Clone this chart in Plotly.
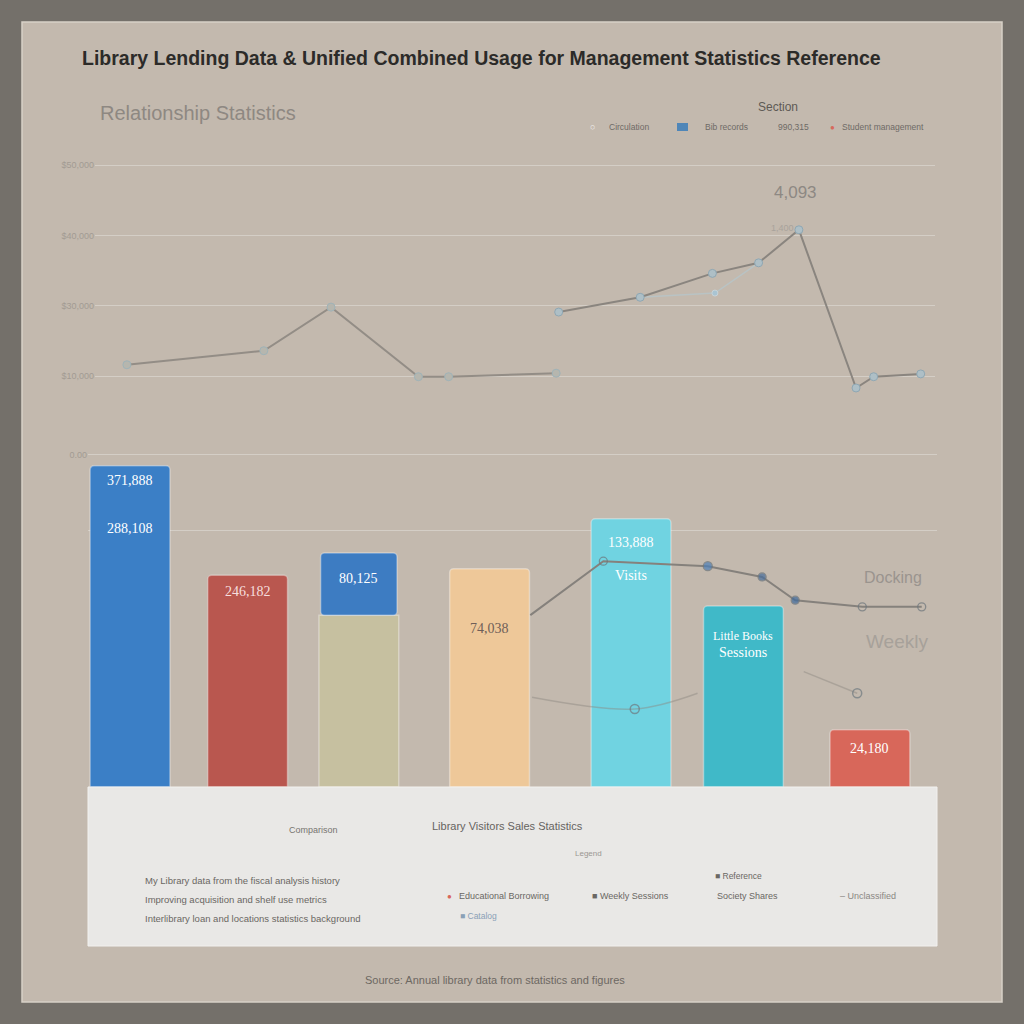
import plotly.graph_objects as go

# ---------------- data ----------------
# top panel: usage trend (day index 0-100, value units)
trend_a_day = [3.8, 20.1, 28.1, 38.5, 42.1, 54.9]
trend_a_val = [16, 36, 98, -1, -1, 4]
trend_b_day = [55.2, 64.9, 73.5, 79.0, 83.8, 90.6, 92.7, 98.3]
trend_b_val = [91, 112, 146, 161, 208, -17, -1, 3]
trend_c_day = [64.9, 73.8, 79.0]
trend_c_val = [112, 118, 161]
top_tick_vals = [0, 100, 200, 300]
top_left_ticks = ["$10,000", "$30,000", "$40,000", "$50,000"]
top_right_ticks = ["5,000", "8,000", "10,000", "12,000"]

# bottom panel: bars by material type
bar_pos = [4.95, 18.8, 31.9, 47.3, 63.96, 77.2, 92.1]
bar_val = [387, 255, 207, 263, 323, 218, 69]
bar_colors = ["#3b7fc6", "#b9574f", "#c6c0a0", "#eec899", "#70d3e1", "#40b9c8", "#d8675a"]
seg_pos = [31.9]
seg_base = [207]
seg_val = [75]
over_day = [52.1, 60.7, 73.0, 79.4, 83.3, 91.2, 98.2]
over_val = [207, 272, 266, 253, 225, 217, 217]
faint_day = [52.3, 64.4, 71.8]
faint_val = [108, 94, 113]
faint2_day = [84.3, 90.6]
faint2_val = [139, 113]
bot_left_vals = [308.4, 400]
bot_left_ticks = ["", "0.00"]
bot_right_vals = [38.6, 117, 400]
bot_right_ticks = ["2.00", "1.00", "0.00"]

# bar labels: (bar index, text, value-position, colour)
label_bar = [0, 0, 1, 2, 3, 4, 4, 5, 5, 6]
label_text = ["371,888", "288,108", "246,182", "80,125", "74,038", "133,888", "Visits",
              "Little Books", "Sessions", "24,180"]
label_val = [369, 311, 235, 251, 191, 295, 255, 182, 162, 46]
label_col = ["#ffffff", "#ffffff", "#f6dede", "#ffffff", "#6f5f58", "#ffffff", "#ffffff",
             "#ffffff", "#ffffff", "#ffffff"]

W = H = 1024
def px(x): return x / W
def py(y): return 1 - y / H

fig = go.Figure()

# ---------------- traces ----------------
fig.add_trace(go.Scatter(x=trend_c_day, y=trend_c_val, mode="lines+markers",
                         line=dict(color="#b9c3c4", width=1.5),
                         marker=dict(size=6, color="#a9c4d2", line=dict(color="#c9d4d8", width=1)),
                         xaxis="x", yaxis="y", showlegend=False))
fig.add_trace(go.Scatter(x=trend_a_day, y=trend_a_val, mode="lines+markers",
                         line=dict(color="#938d86", width=2),
                         marker=dict(size=8, color="#b6b6ae", line=dict(color="#9fb3b8", width=1)),
                         xaxis="x", yaxis="y", showlegend=False))
fig.add_trace(go.Scatter(x=trend_b_day, y=trend_b_val, mode="lines+markers",
                         line=dict(color="#8a857f", width=2),
                         marker=dict(size=8, color="#aebfc6", line=dict(color="#8fa7b3", width=1)),
                         xaxis="x", yaxis="y", showlegend=False))

fig.add_trace(go.Bar(x=bar_pos, y=bar_val, width=9.4,
                     marker=dict(color=bar_colors, cornerradius=4,
                                 line=dict(color="rgba(255,255,255,0.35)", width=1.5)),
                     xaxis="x2", yaxis="y2", showlegend=False))
fig.add_trace(go.Bar(x=seg_pos, y=seg_val, base=seg_base, width=9.0,
                     marker=dict(color="#3d7cc2", cornerradius=4,
                                 line=dict(color="rgba(255,255,255,0.35)", width=1.5)),
                     xaxis="x2", yaxis="y2", showlegend=False))

fig.add_trace(go.Scatter(x=faint_day, y=faint_val, mode="lines+markers",
                         line=dict(color="rgba(140,135,128,0.45)", width=1.5, shape="spline"),
                         marker=dict(size=[0, 9, 0], color="rgba(0,0,0,0)",
                                     line=dict(color="#6f7a80", width=1.5)),
                         xaxis="x2", yaxis="y2", showlegend=False))
fig.add_trace(go.Scatter(x=faint2_day, y=faint2_val, mode="lines+markers",
                         line=dict(color="rgba(140,135,128,0.45)", width=1.5),
                         marker=dict(size=[0, 9], color="rgba(0,0,0,0)",
                                     line=dict(color="#6f7a80", width=1.5)),
                         xaxis="x2", yaxis="y2", showlegend=False))
fig.add_trace(go.Scatter(x=over_day, y=over_val, mode="lines+markers",
                         line=dict(color="#85817c", width=2),
                         marker=dict(size=[0, 8, 9, 8, 8, 8, 8],
                                     color=["#888", "rgba(0,0,0,0)", "#4c7fb8", "#4a6f9c", "#3f6a9c",
                                            "rgba(0,0,0,0)", "rgba(0,0,0,0)"],
                                     line=dict(color="#6d767c", width=1.3)),
                         xaxis="x2", yaxis="y2", showlegend=False))

# ---------------- shapes ----------------
shapes = [
    dict(type="rect", xref="paper", yref="paper", x0=px(22), x1=px(1002), y0=py(1002), y1=py(22),
         fillcolor="#c3b9ae", line=dict(color="#d8d1c8", width=1.5), layer="below"),
    dict(type="rect", xref="paper", yref="paper", x0=px(88), x1=px(937), y0=py(946), y1=py(787),
         fillcolor="#e9e8e6", line=dict(color="#f2f1ef", width=1), layer="above"),
    # top-right legend pill
    dict(type="rect", xref="paper", yref="paper", x0=px(677), x1=px(688), y0=py(131), y1=py(123),
         fillcolor="#4f86b8", line=dict(width=0)),
]

# ---------------- annotations ----------------
ann = []
def text(x, y, t, size, color, xanchor="center", family="Liberation Sans", **kw):
    ann.append(dict(x=px(x), y=py(y), xref="paper", yref="paper", text=t, showarrow=False,
                    xanchor=xanchor, yanchor="middle",
                    font=dict(size=size, color=color, family=family), **kw))

text(80, 58, "<b>Library Lending Data & Unified Combined Usage for Management Statistics Reference</b>",
     19.5, "#2c2b29", xanchor="left")
text(98, 113, "Relationship Statistics", 20, "#8e8882", xanchor="left")
text(778, 107, "Section", 12, "#5e5a55")
text(588, 127, "○", 9, "#f2f0ee", xanchor="left")
text(607, 127, "Circulation", 8.5, "#6e6a66", xanchor="left")
text(703, 127, "Bib records", 8.5, "#6e6a66", xanchor="left")
text(776, 127, "990,315", 8.5, "#6e6a66", xanchor="left")
text(828, 127, "●", 8, "#d66a5c", xanchor="left")
text(840, 127, "Student management", 8.5, "#6e6a66", xanchor="left")

text(795, 192, "4,093", 17, "#8d8883")
text(782, 228, "1,400", 9, "#a9a39c")
text(893, 577, "Docking", 16, "#9a948e")
text(897, 641, "Weekly", 19, "#a7a19a")

for b, t, v, c in zip(label_bar, label_text, label_val, label_col):
    ann.append(dict(x=bar_pos[b], y=v, xref="x2", yref="y2", text=t, showarrow=False,
                    font=dict(size=14 if len(t) < 9 else 12, color=c, family="Liberation Serif")))

text(313, 830, "Comparison", 9, "#777470")
text(507, 826, "Library Visitors Sales Statistics", 11, "#66635f")
text(588, 853, "Legend", 8, "#9a9792")
text(143, 880, "My Library data from the fiscal analysis history", 9.5, "#6a6763", xanchor="left")
text(143, 899, "Improving acquisition and shelf use metrics", 9.5, "#6a6763", xanchor="left")
text(143, 918, "Interlibrary loan and locations statistics background", 9.5, "#6a6763", xanchor="left")
text(445, 896, "●", 8, "#d8675a", xanchor="left")
text(457, 896, "Educational Borrowing", 9, "#6a6763", xanchor="left")
text(590, 896, "■ Weekly Sessions", 9, "#6a6763", xanchor="left")
text(715, 896, "Society Shares", 9, "#6a6763", xanchor="left")
text(838, 896, "– Unclassified", 9, "#8a8783", xanchor="left")
text(713, 876, "■ Reference", 8.5, "#6a6763", xanchor="left")
text(458, 916, "■ Catalog", 8.5, "#8aa0b6", xanchor="left")

text(495, 980, "Source: Annual library data from statistics and figures", 11, "#6d6862")

tickfont = dict(size=9, color="#a29b93", family="Liberation Sans")
fig.update_layout(
    width=1024, height=1024, margin=dict(l=0, r=0, t=0, b=0),
    paper_bgcolor="#74706a", plot_bgcolor="rgba(0,0,0,0)",
    showlegend=False, barmode="overlay",
    shapes=shapes, annotations=ann,
    xaxis=dict(domain=[px(95), px(935)], range=[0, 100], visible=False, anchor="y"),
    yaxis=dict(domain=[py(400), py(150)], range=[-34.1, 321.5], anchor="x",
               tickvals=top_tick_vals, ticktext=top_left_ticks, tickfont=tickfont,
               showgrid=True, gridcolor="#d4cec6", gridwidth=1, zeroline=False, showline=False,
               ticks=""),
    yaxis3=dict(overlaying="y", side="right", anchor="x", range=[-34.1, 321.5],
                tickvals=top_tick_vals, ticktext=top_right_ticks, tickfont=tickfont,
                showgrid=False, zeroline=False, showline=False, ticks=""),
    xaxis2=dict(domain=[px(88), px(937)], range=[0, 100], visible=False, anchor="y2"),
    yaxis2=dict(domain=[py(787), py(440)], range=[0, 418], anchor="x2",
                tickvals=bot_left_vals, ticktext=bot_left_ticks, tickfont=tickfont,
                showgrid=True, gridcolor="#d4cec6", gridwidth=1, zeroline=False, showline=False,
                ticks=""),
    yaxis4=dict(overlaying="y2", side="right", anchor="x2", range=[0, 418],
                tickvals=bot_right_vals, ticktext=bot_right_ticks, tickfont=tickfont,
                showgrid=False, zeroline=False, showline=False, ticks=""),
)

fig.write_html("out.html", config={"displayModeBar": False},
               post_script="document.body.style.margin='0';document.body.style.overflow='hidden';")
